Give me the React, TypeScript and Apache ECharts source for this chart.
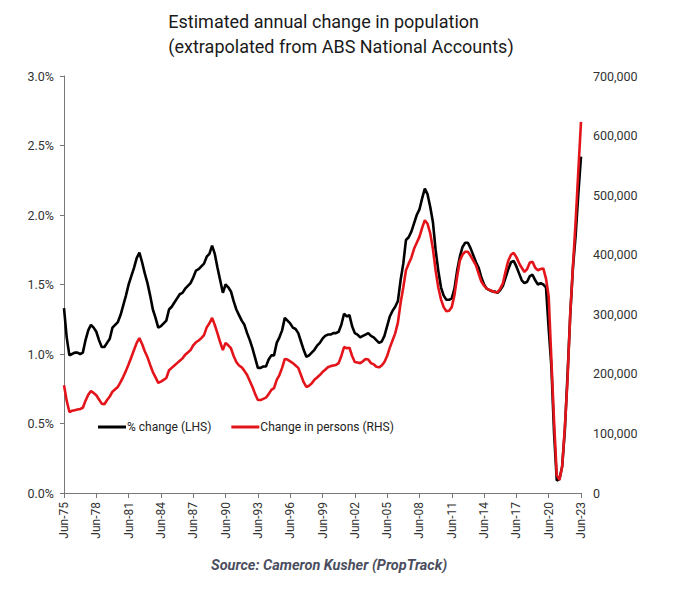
import React, { useEffect, useRef } from "react";
import * as echarts from "echarts";

const titleLines = ["Estimated annual change in population", "(extrapolated from ABS National Accounts)"];
const sourceText = "Source: Cameron Kusher (PropTrack)";
const seriesNames = ["% change (LHS)", "Change in persons (RHS)"];

const quarterMonths = ["Jun", "Sep", "Dec", "Mar"];
const startYear = 1975;
const quarterCount = 193;

// % change (LHS), quarterly from Jun-75 to Jun-23
const pctChange = [
  1.33, 1.12, 0.99, 1.0, 1.01, 1.01, 1.0, 1.01, 1.1, 1.17, 1.21, 1.19,
  1.16, 1.1, 1.05, 1.05, 1.08, 1.11, 1.19, 1.21, 1.23, 1.28, 1.35, 1.42,
  1.5, 1.56, 1.62, 1.69, 1.73, 1.66, 1.58, 1.51, 1.42, 1.32, 1.26, 1.19,
  1.2, 1.22, 1.24, 1.32, 1.34, 1.37, 1.4, 1.43, 1.44, 1.47, 1.49, 1.51,
  1.55, 1.6, 1.61, 1.63, 1.65, 1.7, 1.72, 1.78, 1.72, 1.62, 1.53, 1.44,
  1.5, 1.48, 1.45, 1.38, 1.32, 1.28, 1.24, 1.21, 1.15, 1.1, 1.04, 0.97,
  0.9, 0.9, 0.91, 0.91, 0.96, 0.99, 0.99, 1.08, 1.12, 1.17, 1.26, 1.24,
  1.22, 1.19, 1.18, 1.15, 1.09, 1.03, 0.98, 0.99, 1.01, 1.03, 1.06, 1.08,
  1.11, 1.13, 1.14, 1.14, 1.15, 1.15, 1.16, 1.21, 1.29, 1.27, 1.28, 1.2,
  1.15, 1.14, 1.12, 1.13, 1.14, 1.15, 1.13, 1.12, 1.1, 1.08, 1.09, 1.13,
  1.2, 1.27, 1.31, 1.34, 1.38, 1.53, 1.65, 1.82, 1.84, 1.88, 1.94, 2.0,
  2.04, 2.12, 2.19, 2.15, 2.06, 1.95, 1.75, 1.6, 1.48, 1.42, 1.39, 1.39,
  1.4, 1.47, 1.6, 1.7, 1.77, 1.8, 1.8, 1.76, 1.71, 1.66, 1.62, 1.55,
  1.5, 1.47, 1.46, 1.45, 1.45, 1.44, 1.46, 1.49, 1.55, 1.61, 1.66, 1.67,
  1.63, 1.58, 1.53, 1.51, 1.52, 1.56, 1.57, 1.53, 1.5, 1.51, 1.5, 1.48,
  1.18, 0.91, 0.43, 0.09, 0.1, 0.19, 0.45, 0.85, 1.28, 1.62, 1.85, 2.15, 2.42,
];

// Change in persons (RHS), thousands, quarterly from Jun-75 to Jun-23
const personsK = [
  181, 155, 136, 138, 139, 140, 141, 143, 155, 165, 171, 168,
  164, 157, 150, 149, 156, 162, 170, 174, 178, 186, 195, 205,
  216, 228, 240, 252, 260, 250, 238, 228, 215, 203, 194, 185,
  187, 190, 193, 206, 210, 214, 218, 222, 226, 232, 236, 240,
  248, 253, 256, 260, 265, 278, 285, 294, 282, 268, 253, 240,
  252, 248, 243, 230, 220, 214, 211, 205, 198, 188, 178, 166,
  156, 156, 158, 160, 166, 173, 176, 190, 198, 210, 225, 224,
  221, 218, 214, 210, 198, 186, 178, 180, 184, 190, 194, 198,
  203, 207, 211, 213, 214, 215, 218, 230, 245, 243, 244, 230,
  220, 219, 218, 221, 225, 224, 218, 216, 212, 211, 214, 220,
  230, 244, 256, 268, 286, 319, 345, 374, 385, 395, 410, 420,
  430, 445, 458, 452, 436, 410, 374, 345, 325, 312, 305, 306,
  312, 332, 363, 390, 400, 405, 405, 398, 390, 382, 368, 355,
  348, 343, 341, 339, 337, 337, 343, 352, 372, 390, 400, 403,
  396, 386, 378, 371, 376, 387, 388, 378, 374, 376, 377, 360,
  330, 223, 120, 30, 22, 44, 110, 190, 300, 380, 455, 540, 623,
];

const categories: string[] = [];
for (let i = 0; i < quarterCount; i++) {
  const yr = (startYear + Math.floor((i + 1) / 4)) % 100;
  categories.push(`${quarterMonths[i % 4]}-${String(yr).padStart(2, "0")}`);
}

const FONT = "Roboto, 'Noto Sans', sans-serif";

export default function App() {
  const ref = useRef<HTMLDivElement>(null);
  useEffect(() => {
    if (!ref.current) return;
    const chart = echarts.init(ref.current, null, { renderer: "svg" });
    chart.setOption({
      animation: false,
      backgroundColor: "#ffffff",
      textStyle: { fontFamily: FONT },
      graphic: [
        {
          type: "text",
          left: "center",
          top: 9,
          style: {
            text: titleLines.join("\n"),
            fontSize: 18,
            lineHeight: 25,
            fill: "#1a1a1a",
            align: "center",
            fontFamily: FONT,
          },
        },
        {
          type: "text",
          left: 211,
          top: 558,
          style: {
            text: sourceText,
            fontSize: 14.5,
            fontWeight: "bold",
            fontStyle: "italic",
            fill: "#4b4e5e",
            fontFamily: FONT,
          },
        },
      ],
      legend: {
        left: 93,
        top: 416,
        icon: "rect",
        itemWidth: 28,
        itemHeight: 3,
        itemGap: 20,
        textStyle: { fontSize: 12, color: "#222", fontFamily: FONT, padding: [0, 0, 0, -4] },
        data: seriesNames,
      },
      grid: { left: 64, right: 101, top: 76, bottom: 100, containLabel: false },
      xAxis: {
        type: "category",
        data: categories,
        boundaryGap: false,
        axisLine: { lineStyle: { color: "#777", width: 1 } },
        axisTick: { interval: 11, length: 5, lineStyle: { color: "#777" } },
        axisLabel: { interval: 11, rotate: 90, fontSize: 12, color: "#333", margin: 9, fontFamily: FONT },
        splitLine: { show: false },
      },
      yAxis: [
        {
          type: "value",
          min: 0,
          max: 3,
          interval: 0.5,
          axisLine: { show: true, lineStyle: { color: "#777", width: 1 } },
          axisTick: { show: true, length: 4, lineStyle: { color: "#777" } },
          axisLabel: {
            fontSize: 12.5,
            color: "#333",
            margin: 10,
            fontFamily: FONT,
            formatter: (v: number) => `${v.toFixed(1)}%`,
          },
          splitLine: { show: false },
        },
        {
          type: "value",
          min: 0,
          max: 700000,
          interval: 100000,
          position: "right",
          axisLine: { show: false },
          axisTick: { show: false },
          axisLabel: {
            fontSize: 12.5,
            color: "#333",
            margin: 12,
            fontFamily: FONT,
            formatter: (v: number) => v.toLocaleString("en-US"),
          },
          splitLine: { show: false },
        },
      ],
      series: [
        {
          name: seriesNames[0],
          type: "line",
          yAxisIndex: 0,
          data: pctChange,
          symbol: "none",
          lineStyle: { color: "#000000", width: 2.6 },
          itemStyle: { color: "#000000" },
        },
        {
          name: seriesNames[1],
          type: "line",
          yAxisIndex: 1,
          data: personsK.map((v) => v * 1000),
          symbol: "none",
          lineStyle: { color: "#e3151b", width: 2.6 },
          itemStyle: { color: "#e3151b" },
        },
      ],
    });
    return () => chart.dispose();
  }, []);
  return <div ref={ref} style={{ width: 682, height: 593, position: "absolute", left: 0, top: 0 }} />;
}
